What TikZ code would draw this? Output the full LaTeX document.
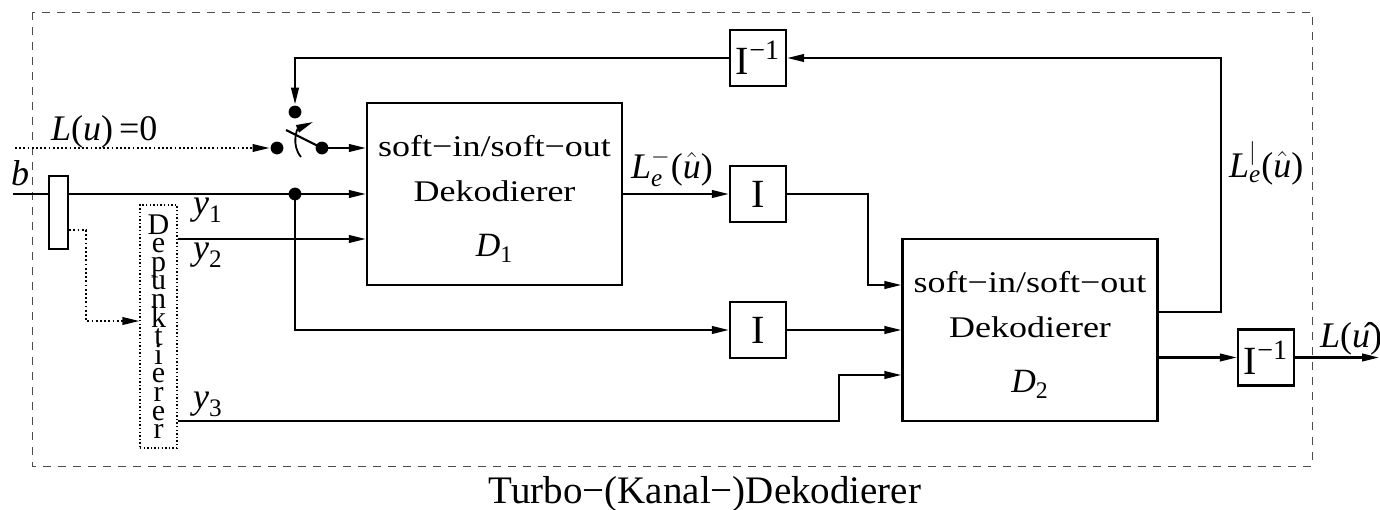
\documentclass[tikz,border=0pt]{standalone}
\usepackage{fontspec}
\usepackage{amsmath}
\setmainfont{Liberation Serif}
\newfontfamily\wideserif[FakeStretch=1.2]{Liberation Serif}
\usetikzlibrary{arrows.meta,calc}
\newcommand{\tx}[1]{\textit{#1}}
\begin{document}
\begin{tikzpicture}[x=0.5pt,y=-0.5pt,
  line width=1.1pt,
  >={Triangle[length=8.5pt,width=3.8pt]},
  dec/.style={draw, minimum width=127.5pt, minimum height=91pt, inner sep=0},
  ibox/.style={draw, minimum width=28pt, minimum height=28pt, inner sep=0, font=\fontsize{20}{24}\selectfont},
  dot/.style={circle, fill, inner sep=0, minimum size=6.4pt},
  lbl/.style={font=\fontsize{18}{21}\selectfont, inner sep=0},
  dectext/.style={font=\wideserif\fontsize{15}{18}\selectfont, inner sep=0, anchor=base},
  dname/.style={font=\fontsize{17}{20}\selectfont, inner sep=0, anchor=base},
  dotline/.style={line width=0.9pt, dash pattern=on 0.9pt off 1.2pt},
  frame/.style={line width=0.5pt, dash pattern=on 4pt off 3.5pt, draw=black!70}]
\useasboundingbox (0,0) rectangle (1380,509);

% frame
\draw[frame] (32,12) rectangle (1312,466);
\node[font=\fontsize{19.5}{23}\selectfont, anchor=base, inner sep=0] (cap) at (705,503) {Turbo−(Kanal−)Dekodierer};

% decoder boxes
\node[dec] (D1) at (494.5,194) {};
\node[dec] (D2) at (1030,330) {};
\node[dectext] at ($(D1.north)+(0,55)$) {soft−in/soft−out};
\node[dectext] at ($(D1.north)+(0,100)$) {Dekodierer};
\node[dname] at ($(D1.north)+(0,155)$) {$\textit{D}_{\text{1}}$};
\node[dectext] at ($(D2.north)+(0,55)$) {soft−in/soft−out};
\node[dectext] at ($(D2.north)+(0,100)$) {Dekodierer};
\node[dname] at ($(D2.north)+(0,155)$) {$\textit{D}_{\text{2}}$};

% interleavers
\node[ibox] (Ifb) at (758,58) {$\text{I}^{\text{−1}}$};
\node[ibox] (I1) at (758,194) {I};
\node[ibox] (I2) at (758,330) {I};
\node[ibox] (Iout) at (1266,357.5) {$\text{I}^{\text{−1}}$};

% depuncturer
\node[draw, line width=0.6pt, dash pattern=on 0.7pt off 1.1pt, minimum width=18.5pt, minimum height=121.5pt, inner sep=0, align=center,
  font={\fontsize{15}{9.3}\selectfont\lineskiplimit=-50pt}] (dp) at (158.5,326.5)
  {D\\e\\p\\u\\n\\k\\t\\i\\e\\r\\e\\r};

% switch
\node[dot] (sT) at (295,112) {};
\node[dot] (sL) at (277,148) {};
\node[dot] (sR) at (322,148) {};
\coordinate (blade) at (286,130);
\draw (sR.center) -- (blade);
\draw[->, line width=0.9pt] (301,157) .. controls (291,145) and (297,129) .. (313,122);

% input b
\coordinate (bin) at (13,194);
\draw[->] (bin) -- (bin -| D1.west);
\node[draw, fill=white, minimum width=9.5pt, minimum height=36.5pt, inner sep=0] (sp) at (58.5,212.5) {};
\node[dot] (j1) at (295,194) {};
\draw[->] (j1.center) |- (I2.west);

% L(u)=0
\coordinate (lu) at (15,148);
\draw[dotline,->] (lu) -- (sL.west);
\draw[->] (sR.center) -- (D1.west |- sR);

% puncturing path
\coordinate (pk) at (86,321);
\draw[dotline,->] (sp.east |- 0,230) -| (pk) -- (dp.west |- pk);

% y2, y3
\draw[->] (dp.east |- 0,239) -- (D1.west |- 0,239);
\coordinate (y3k) at (839,421);
\draw[->] (dp.east |- y3k) -- (y3k) |- (D2.west |- 0,375);

% D1 -> I -> D2
\draw[->] (D1.east) -- (I1.west);
\draw[->] (I1.east) -- ++(81,0) |- (D2.west |- 0,285);
\draw[->] (I2.east) -- (D2.west |- I2.east);

% outputs
\draw[->] (D2.east |- Iout.west) -- (Iout.west);
\coordinate (out) at (1379,357.5);
\draw[->] (Iout.east) -- (out);
\coordinate (fbk) at (1221,312);
\draw[->] (D2.east |- fbk) -- (fbk) |- (Ifb.east);
\draw[->] (Ifb.west) -| (sT.north);

% labels
\node[lbl, anchor=base west] (lb) at (10,185) {\tx{b}};
\node[lbl, anchor=base west] (llu) at (50,140) {\tx{L}(\tx{u})\,=0};
\node[lbl, anchor=base west] (ly1) at (192,214) {$\textit{y}_{\text{1}}$};
\node[lbl, anchor=base west] (ly2) at (192,259) {$\textit{y}_{\text{2}}$};
\node[lbl, anchor=base west] (ly3) at (192,408) {$\textit{y}_{\text{3}}$};
\node[lbl, anchor=base west] (lle1) at (630,178) {$\textit{L}_{\textit{e}}^{-}\text{(}\hat{\textit{u}}\text{)}$};
\node[lbl, anchor=base west] (lle2) at (1228,177) {$\textit{L}_{\textit{e}}^{|}\text{(}\hat{\textit{u}}\text{)}$};
\node[lbl, anchor=base west] (lout) at (1319,347) {\tx{L}(\^{\tx{u}})};
\end{tikzpicture}
\end{document}
